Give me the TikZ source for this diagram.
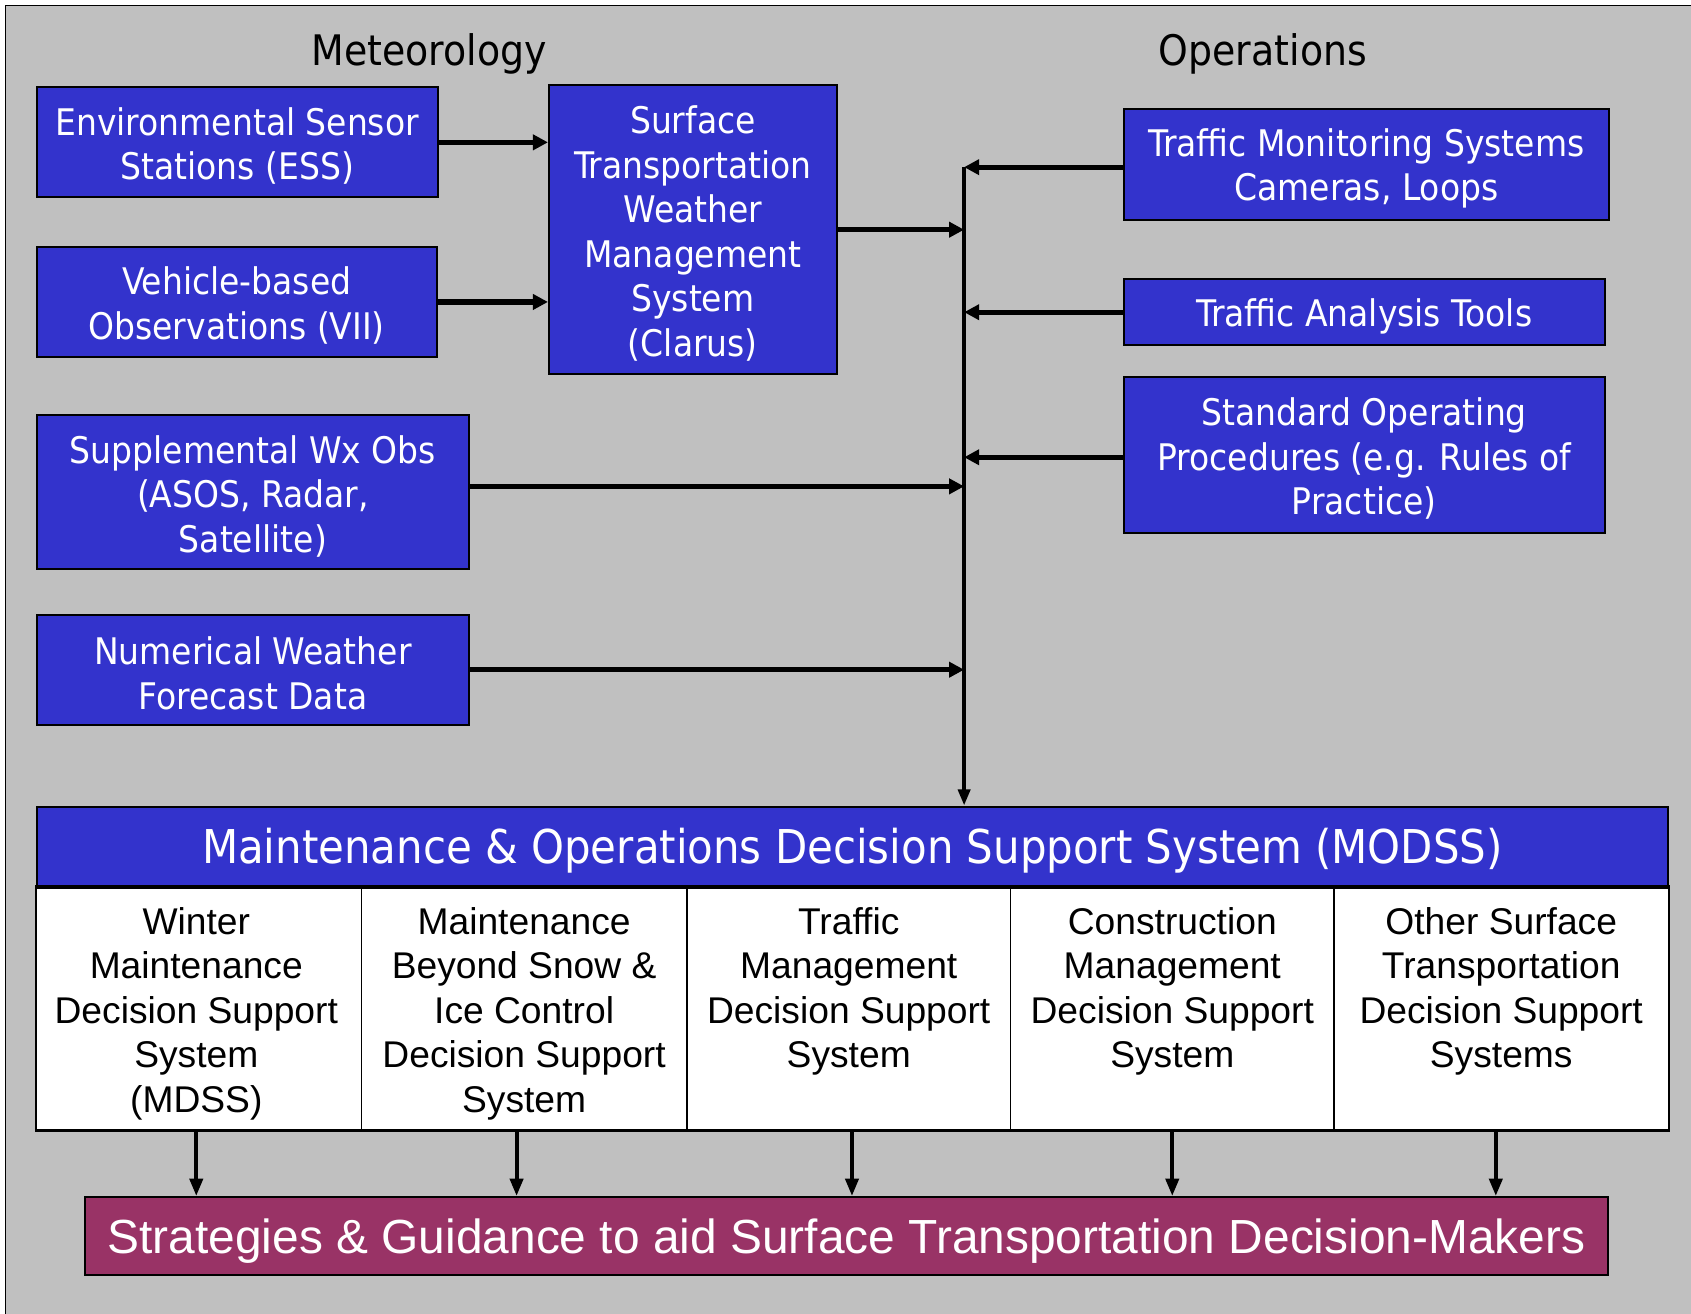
\documentclass[tikz,border=0pt]{standalone}
\usepackage{fontspec}
\setmainfont{DejaVu Sans Condensed}
\newfontfamily\arialfont{Liberation Sans}
\usetikzlibrary{arrows.meta}
\definecolor{bggray}{RGB}{192,192,192}
\definecolor{boxblue}{RGB}{51,51,204}
\definecolor{stratred}{RGB}{153,51,102}
\newcommand\boxfont{\fontsize{17}{20.65}\selectfont}
\newcommand\headfont{\fontsize{19.5}{23}\selectfont}
\newcommand\modssfont{\fontsize{21.6}{25}\selectfont}
\newcommand\cellfont{\arialfont\fontsize{17.25}{20.6}\selectfont}
\newcommand\stratfont{\arialfont\fontsize{22.2}{26}\selectfont}
\begin{document}
\begin{tikzpicture}[x=0.5pt,y=-0.5pt,
  corners/.style args={#1,#2,#3,#4}{minimum width={(#3-#1)*0.5pt}, minimum height={(#4-#2)*0.5pt}, at={({(#1+#3)/2},{(#2+#4)/2})}},
  boxlabel/.style={inner sep=0pt, align=center, font=\boxfont, text=white, yshift=-1.75pt},
  txt/.style={label={[boxlabel]center:{#1}}},
  bluebox/.style={draw=black, line width=0.9pt, fill=boxblue, inner sep=0pt},
  heading/.style={inner sep=0pt, font=\headfont, text=black},
  header/.style={draw=black, line width=1pt, fill=boxblue, inner sep=0pt},
  headlabel/.style={inner sep=0pt, font=\modssfont, text=white, yshift=-2pt},
  cell/.style={draw=black, line width=0.7pt, fill=white, inner sep=0pt},
  celltext/.style={inner sep=0pt, align=center, font=\cellfont, text=black},
  strat/.style={draw=black, line width=1pt, fill=stratred, inner sep=0pt},
  stratlabel/.style={inner sep=0pt, font=\stratfont, text=white, yshift=-2.5pt},
  arr/.style={line width=2.4pt, -{Triangle[length=7pt,width=7pt]}},
  bus/.style={line width=2pt, -{Triangle[length=7.5pt,width=5.5pt]}},
  downarr/.style={line width=1.8pt, -{Triangle[length=8pt,width=6pt]}}]
\useasboundingbox (0,0) rectangle (1568,1218);
% background frame
\fill[white] (0,0) rectangle (1568,1218);
\fill[bggray] (5,5) rectangle (1568,1218);
\draw[line width=0.8pt] (5,1218) -- (5,5) -- (1568,5);

% headings
\node[heading] (met) at (398,50) {Meteorology};
\node[heading] (ops) at (1171,50) {Operations};

% meteorology boxes
\node[bluebox, corners={34,81,406,183}, txt={Environmental Sensor\\Stations (ESS)}] (ess) {};
\node[bluebox, corners={34,229,405,331}, txt={Vehicle-based\\Observations (VII)}] (vii) {};
\node[bluebox, corners={509,79,776,347}, txt={Surface\\Transportation\\Weather\\Management\\System\\(Clarus)}] (clarus) {};
\node[bluebox, corners={34,385,435,528}, txt={Supplemental Wx Obs\\(ASOS, Radar,\\Satellite)}] (supp) {};
\node[bluebox, corners={34,570,435,672}, txt={Numerical Weather\\Forecast Data}] (nwp) {};

% operations boxes
\node[bluebox, corners={1042,101,1492,204}, txt={Traffic Monitoring Systems\\Cameras, Loops}] (tms) {};
\node[bluebox, corners={1042,259,1488,320}, txt={Traffic Analysis Tools}] (tat) {};
\node[bluebox, corners={1042,350,1488,494}, txt={Standard Operating\\Procedures (e.g. Rules of\\Practice)}] (sop) {};

% MODSS
\node[header, corners={34,748,1547,822}, label={[headlabel]center:{Maintenance \& Operations Decision Support System (MODSS)}}] (modss) {};
\node[cell, corners={34,822,335,1048}] (c1) {};
\node[cell, corners={335,822,637,1048}] (c2) {};
\node[cell, corners={637,822,937,1048}] (c3) {};
\node[cell, corners={937,822,1237,1048}] (c4) {};
\node[cell, corners={1237,822,1547,1048}] (c5) {};
\draw[line width=1pt] (c1.south west) rectangle (c5.north east);
\draw[line width=1.4pt] (modss.south west) -- (modss.south east);

\node[celltext, anchor=north] (t1) at (182,841) {Winter\\Maintenance\\Decision Support\\System\\(MDSS)};
\node[celltext, anchor=north] (t2) at (486,841) {Maintenance\\Beyond Snow \&\\Ice Control\\Decision Support\\System};
\node[celltext, anchor=north] (t3) at (787,841) {Traffic\\Management\\Decision Support\\System};
\node[celltext, anchor=north] (t4) at (1087,841) {Construction\\Management\\Decision Support\\System};
\node[celltext, anchor=north] (t5) at (1392,841) {Other Surface\\Transportation\\Decision Support\\Systems};

% strategies
\node[strat, corners={79,1110,1491,1182}, label={[stratlabel]center:{Strategies \& Guidance to aid Surface Transportation Decision-Makers}}] (strat) {};

% connector levels
\coordinate (busx) at (894,0);
\coordinate (tmsp) at ([yshift=-1.25pt]tms.west);
\coordinate (suppp) at ([yshift=2.75pt]supp.east);
\coordinate (sopp) at ([yshift=-1pt]sop.west);

% bus
\draw[bus] (tmsp -| busx) -- (busx |- modss.north);

% connectors
\draw[arr] (ess.east) -- (ess.east -| clarus.west);
\draw[arr] (vii.east) -- (vii.east -| clarus.west);
\draw[arr] (clarus.east) -- (clarus.east -| busx);
\draw[arr] (suppp) -- (suppp -| busx);
\draw[arr] (nwp.east) -- (nwp.east -| busx);
\draw[arr] (tmsp) -- (tmsp -| busx);
\draw[arr] (tat.west) -- (tat.west -| busx);
\draw[arr] (sopp) -- (sopp -| busx);

\coordinate (a1) at (182,0);
\coordinate (a2) at (479,0);
\coordinate (a3) at (790,0);
\coordinate (a4) at (1087,0);
\coordinate (a5) at (1387,0);
\draw[downarr] (a1 |- c1.south) -- (a1 |- strat.north);
\draw[downarr] (a2 |- c2.south) -- (a2 |- strat.north);
\draw[downarr] (a3 |- c3.south) -- (a3 |- strat.north);
\draw[downarr] (a4 |- c4.south) -- (a4 |- strat.north);
\draw[downarr] (a5 |- c5.south) -- (a5 |- strat.north);
\end{tikzpicture}
\end{document}
